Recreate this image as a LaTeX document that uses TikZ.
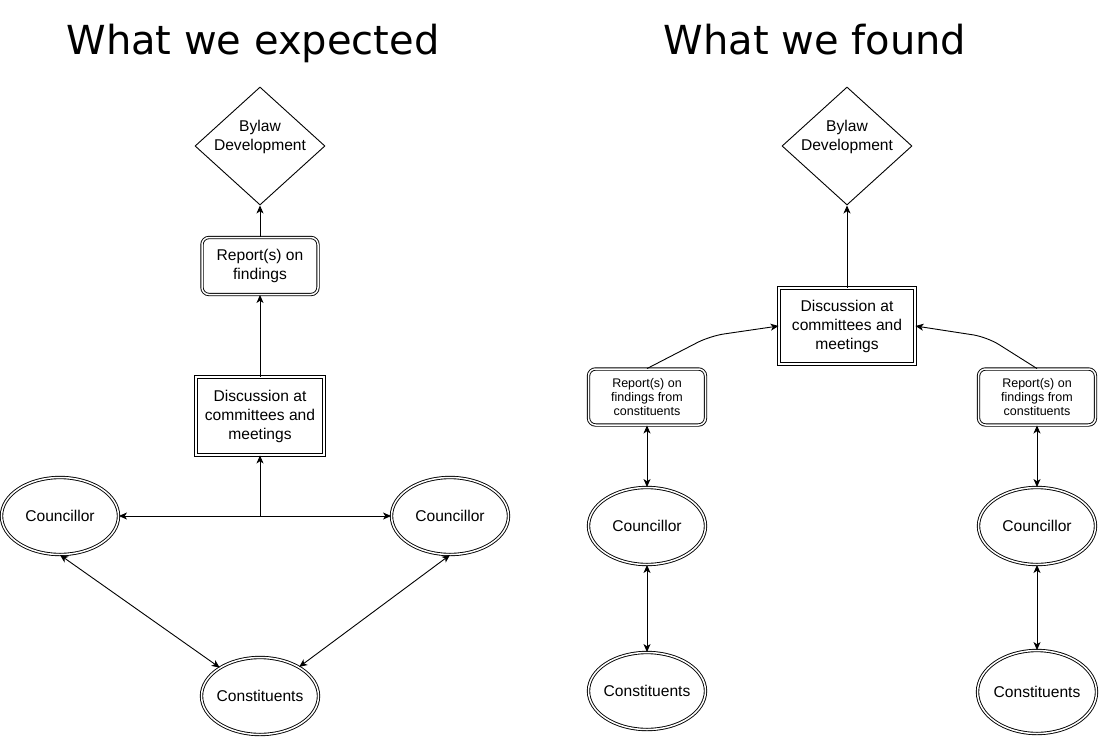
\documentclass[tikz,border=0pt]{standalone}
\usepackage{fontspec}
\setmainfont{Liberation Sans}
\newfontfamily\titlefont{DejaVu Sans}
\usetikzlibrary{arrows.meta,shapes.geometric}
\newcommand{\nodefont}{\fontsize{15.6}{19}\selectfont}
\newcommand{\smallfont}{\fontsize{12.5}{14}\selectfont}
\newcommand{\ovaltext}[1]{\makebox[50pt]{#1}}

\begin{document}
\begin{tikzpicture}[x=1pt,y=-1pt]
    \useasboundingbox (0,0) rectangle (1100,750);

    % titles
    \node[font=\titlefont\fontsize{40}{48}\selectfont,anchor=base] (TL) at (253,54) {What we expected};
    \node[font=\titlefont\fontsize{40}{48}\selectfont,anchor=base] (TR) at (815,54) {What we found};

    \begin{scope}[every node/.style={draw=black,line width=0.9pt,font=\nodefont,
        align=center,inner sep=0pt}]
      % what we expected
      \node[shape=diamond,minimum width=130,minimum height=118,
            label={[draw=none,align=center,yshift=9pt]center:Bylaw\\Development}] (BL) at (260,146) {};
      \node[shape=rectangle,rounded corners=7pt,double,double distance=1.5pt,
            minimum width=116,minimum height=57] (RL) at (260,266) {Report(s) on\\findings};
      \node[shape=rectangle,double,double distance=1.5pt,
            minimum width=128,minimum height=78] (DL) at (260,416) {Discussion at\\committees and\\meetings};
      \node[shape=ellipse,double,double distance=1.5pt,
            minimum width=117,minimum height=77] (CL1) at (60,516) {\ovaltext{Councillor}};
      \node[shape=ellipse,double,double distance=1.5pt,
            minimum width=117,minimum height=77] (CL2) at (450,516) {\ovaltext{Councillor}};
      \node[shape=ellipse,double,double distance=1.5pt,
            minimum width=117,minimum height=77] (PL) at (260,696) {\ovaltext{Constituents}};

      % what we found
      \node[shape=diamond,minimum width=130,minimum height=118,
            label={[draw=none,align=center,yshift=9pt]center:Bylaw\\Development}] (BR) at (847,146) {};
      \node[shape=rectangle,double,double distance=1.5pt,
            minimum width=136,minimum height=76] (DR) at (847,326) {Discussion at\\committees and\\meetings};
      \node[shape=rectangle,rounded corners=7pt,double,double distance=1.5pt,font=\smallfont,
            minimum width=117,minimum height=56] (RR1) at (647,397) {Report(s) on\\findings from\\constituents};
      \node[shape=rectangle,rounded corners=7pt,double,double distance=1.5pt,font=\smallfont,
            minimum width=117,minimum height=56] (RR2) at (1037,397) {Report(s) on\\findings from\\constituents};
      \node[shape=ellipse,double,double distance=1.5pt,
            minimum width=117,minimum height=77] (CR1) at (647,526) {\ovaltext{Councillor}};
      \node[shape=ellipse,double,double distance=1.5pt,
            minimum width=117,minimum height=77] (CR2) at (1037,526) {\ovaltext{Councillor}};
      \node[shape=ellipse,double,double distance=1.5pt,
            minimum width=117,minimum height=77] (PR1) at (647,691) {\ovaltext{Constituents}};
      \node[shape=ellipse,double,double distance=1.5pt,
            minimum width=119,minimum height=83] (PR2) at (1037,692) {\ovaltext{Constituents}};
    \end{scope}

    \coordinate (J) at (260,516);

    \begin{scope}[>={Stealth[length=8pt,width=7pt,inset=2.2pt]},
        every edge/.style={draw=black,line width=0.9pt}]
      \path [->] (DL) edge (RL);
      \path [->] (RL) edge (BL);
      \path [<->] (CL1) edge (CL2);
      \path [->] (J) edge (DL);
      \path [<->] (CL1.south) edge (PL);
      \path [<->] (CL2.south) edge (PL);

      \path [->] (DR) edge (BR);
      \draw [->,line width=0.9pt,rounded corners=14pt] (RR1.north) -- (710,336) -- (DR.west);
      \draw [->,line width=0.9pt,rounded corners=14pt] (RR2.north) -- (987,337) -- (DR.east);
      \path [<->] (RR1) edge (CR1);
      \path [<->] (RR2) edge (CR2);
      \path [<->] (CR1) edge (PR1);
      \path [<->] (CR2) edge (PR2);
    \end{scope}
  \end{tikzpicture}
\end{document}
